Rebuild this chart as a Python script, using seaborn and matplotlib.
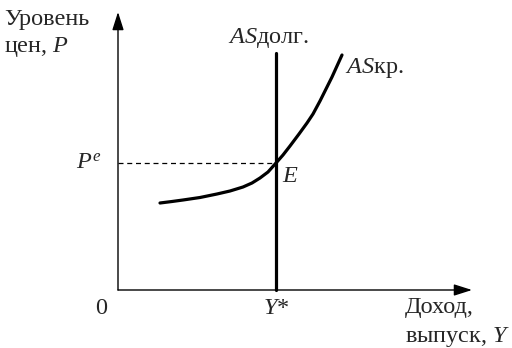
import matplotlib
matplotlib.use("Agg")
import matplotlib.pyplot as plt
import seaborn as sns
import pandas as pd

# Short-run aggregate supply curve
as_short_x = [42, 54, 65, 82, 99, 112, 125, 134, 142, 150, 158, 165, 172, 181, 189, 195, 202, 209, 214, 219, 224]
as_short_y = [87, 88.5, 90, 92.5, 96, 99, 103, 107, 112, 118, 127, 135, 144, 156, 167, 176, 189, 203, 213, 224, 235]
# Long-run aggregate supply (vertical at Y*)
y_star = 158
as_long_y = [0, 237]
p_e = 127

sns.set_style("white")
plt.rcParams["font.family"] = ["Liberation Serif", "DejaVu Serif"]
plt.rcParams["mathtext.fontset"] = "custom"
plt.rcParams["mathtext.rm"] = "Liberation Serif"
plt.rcParams["mathtext.it"] = "Liberation Serif:italic"

fig = plt.figure(figsize=(5.12, 3.48), dpi=100)
ax = fig.add_axes([0, 0, 1, 1])
ax.set_xlim(-118, 394)
ax.set_ylim(-58, 290)
ax.axis("off")

short_df = pd.DataFrame({"Y": as_short_x, "P": as_short_y})
long_df = pd.DataFrame({"Y": [y_star, y_star], "P": as_long_y})

sns.lineplot(data=short_df, x="Y", y="P", ax=ax, color="black", lw=2.3,
             sort=False, estimator=None, errorbar=None)
sns.lineplot(data=long_df, x="Y", y="P", ax=ax, color="black", lw=2.3,
             sort=False, estimator=None, errorbar=None)

# dashed P^e line
ax.plot([0, y_star], [p_e, p_e], color="black", lw=0.9, ls=(0, (4, 3)))

# axes with arrows
arrow = dict(arrowstyle="-|>,head_length=1.1,head_width=0.35", color="black", lw=1.0,
             shrinkA=0, shrinkB=0)
ax.annotate("", xy=(0, 278), xytext=(0, 0), arrowprops=arrow)
ax.annotate("", xy=(354, 0), xytext=(0, 0), arrowprops=arrow)

fs = 17.5
ax.text(-114, 271, "Уровень", fontsize=fs, va="center", ha="left")
ax.text(-114, 243, "цен, $P$", fontsize=fs, va="center", ha="left")
ax.text(110, 252, "$AS$долг.", fontsize=fs, va="center", ha="left")
ax.text(227, 222, "$AS$кр.", fontsize=fs, va="center", ha="left")
ax.text(-42, p_e, "$P^e$", fontsize=fs, va="center", ha="left")
ax.text(164, 114, "$E$", fontsize=fs, va="center", ha="left")
ax.text(-23, -18, "0", fontsize=fs, va="center", ha="left")
ax.text(y_star, -18, "$Y$*", fontsize=fs, va="center", ha="center")
ax.text(287, -18, "Доход,", fontsize=fs, va="center", ha="left")
ax.text(287, -47, "выпуск, $Y$", fontsize=fs, va="center", ha="left")

fig.savefig("out.png", dpi=100)
